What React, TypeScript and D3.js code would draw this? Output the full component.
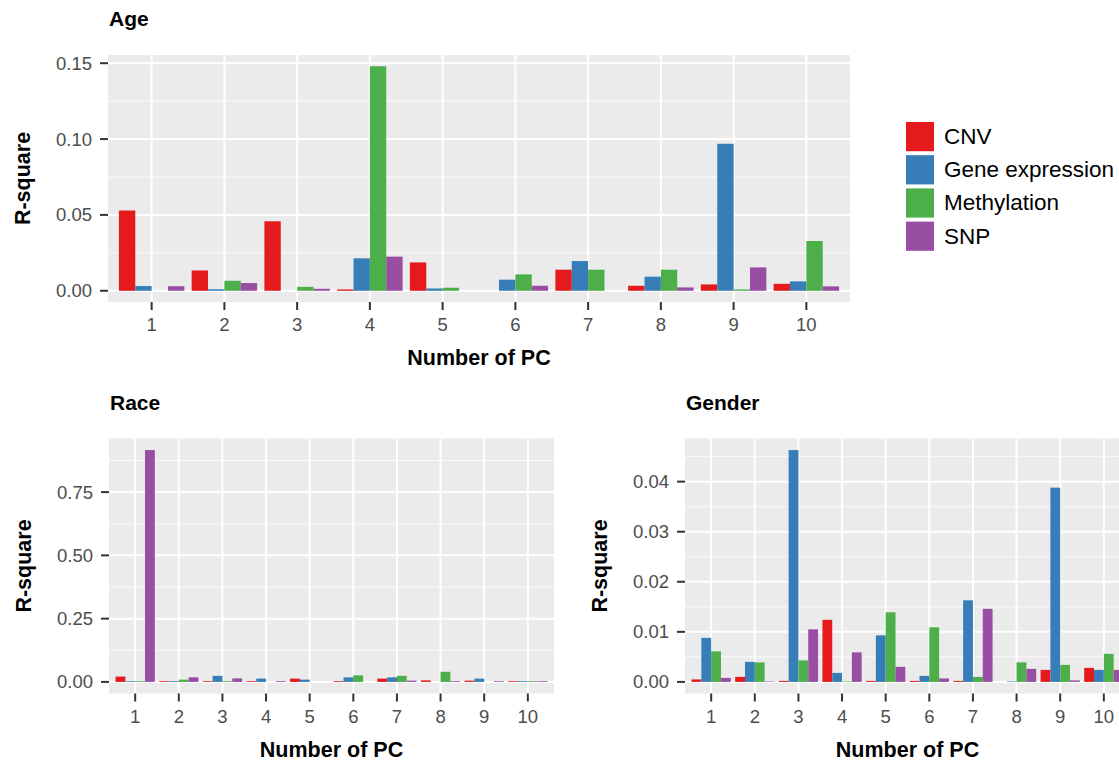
import React, { useEffect, useRef } from 'react';
import * as d3 from 'd3';

// number of principal component (x categories)
const pcLabels = ['1', '2', '3', '4', '5', '6', '7', '8', '9', '10'];
const seriesNames = ['CNV', 'Gene expression', 'Methylation', 'SNP'];
const seriesColors = ['#e41a1c', '#377eb8', '#4daf4a', '#984ea3'];

// Age
const ageCNV = [0.0529, 0.0134, 0.0458, 0.0009, 0.0187, 0, 0.0139, 0.0033, 0.0042, 0.0046];
const ageGeneExpr = [0.0031, 0.001, 0, 0.0214, 0.0015, 0.0073, 0.0196, 0.0093, 0.0969, 0.0062];
const ageMethylation = [0, 0.0066, 0.0026, 0.148, 0.002, 0.0108, 0.0139, 0.0139, 0.0009, 0.0328];
const ageSNP = [0.003, 0.0051, 0.0013, 0.0225, 0, 0.0033, 0, 0.0022, 0.0154, 0.0029];
const ageTicks = [0, 0.05, 0.1, 0.15];

// Race
const raceCNV = [0.021, 0.003, 0.003, 0.003, 0.013, 0.003, 0.013, 0.006, 0.005, 0.003];
const raceGeneExpr = [0.003, 0.003, 0.024, 0.013, 0.009, 0.018, 0.018, 0, 0.013, 0.003];
const raceMethylation = [0.003, 0.009, 0.003, 0, 0, 0.026, 0.024, 0.04, 0, 0.003];
const raceSNP = [0.916, 0.018, 0.014, 0.003, 0, 0, 0.005, 0.003, 0.003, 0.003];
const raceTicks = [0, 0.25, 0.5, 0.75];

// Gender
const genderCNV = [0.0005, 0.001, 0.0002, 0.0124, 0.0002, 0.0002, 0.0002, 0, 0.0024, 0.0028];
const genderGeneExpr = [0.0088, 0.004, 0.0463, 0.0018, 0.0093, 0.0012, 0.0163, 0.0001, 0.0388, 0.0024];
const genderMethylation = [0.0061, 0.0039, 0.0043, 0.0001, 0.0139, 0.0109, 0.001, 0.0039, 0.0034, 0.0056];
const genderSNP = [0.0008, 0.0001, 0.0105, 0.0059, 0.003, 0.0007, 0.0146, 0.0026, 0.0003, 0.0024];
const genderTicks = [0, 0.01, 0.02, 0.03, 0.04];

const FONT = "'Liberation Sans', Arial, Helvetica, sans-serif";

function drawPanel(svg, { title, series, ticks, fmt, left, right, top, bottom }) {
  const g = svg.append('g');
  const max = d3.max(series.flat());
  const y = d3.scaleLinear()
    .domain([-0.05 * max, 1.05 * max])
    .range([bottom, top]);
  const x = d3.scalePoint()
    .domain(pcLabels)
    .range([left, right])
    .padding(0.6);
  const step = x.step();

  // panel background
  g.append('rect')
    .attr('x', left).attr('y', top)
    .attr('width', right - left).attr('height', bottom - top)
    .attr('fill', '#ebebeb');

  // minor grid
  const minor = [];
  for (let i = 0; i < ticks.length; i++) {
    const m = ticks[i] + (ticks[1] - ticks[0]) / 2;
    if (m < y.domain()[1]) minor.push(m);
  }
  g.selectAll('.minor').data(minor).enter().append('line')
    .attr('x1', left).attr('x2', right)
    .attr('y1', d => y(d)).attr('y2', d => y(d))
    .attr('stroke', '#fafafa').attr('stroke-width', 1);

  // major grid
  g.selectAll('.hmajor').data(ticks).enter().append('line')
    .attr('x1', left).attr('x2', right)
    .attr('y1', d => y(d)).attr('y2', d => y(d))
    .attr('stroke', '#ffffff').attr('stroke-width', 2);
  g.selectAll('.vmajor').data(pcLabels).enter().append('line')
    .attr('x1', d => x(d)).attr('x2', d => x(d))
    .attr('y1', top).attr('y2', bottom)
    .attr('stroke', '#ffffff').attr('stroke-width', 2);

  // bars (dodged, total width 0.9)
  const bw = 0.9 * step / series.length;
  series.forEach((vals, k) => {
    g.selectAll('.bar' + k).data(vals).enter().append('rect')
      .attr('x', (d, i) => x(pcLabels[i]) - 0.45 * step + k * bw)
      .attr('y', d => y(d))
      .attr('width', bw)
      .attr('height', d => Math.max(0, y(0) - y(d)))
      .attr('fill', seriesColors[k]);
  });

  // y axis ticks and labels
  g.selectAll('.ytick').data(ticks).enter().append('line')
    .attr('x1', left - 8).attr('x2', left)
    .attr('y1', d => y(d)).attr('y2', d => y(d))
    .attr('stroke', '#333').attr('stroke-width', 2);
  g.selectAll('.ylab').data(ticks).enter().append('text')
    .attr('x', left - 16).attr('y', d => y(d))
    .attr('text-anchor', 'end').attr('dominant-baseline', 'central')
    .attr('font-size', 18.5).attr('fill', '#4d4d4d')
    .text(d => fmt(d));

  // x axis ticks and labels
  g.selectAll('.xtick').data(pcLabels).enter().append('line')
    .attr('x1', d => x(d)).attr('x2', d => x(d))
    .attr('y1', bottom).attr('y2', bottom + 8)
    .attr('stroke', '#333').attr('stroke-width', 2);
  g.selectAll('.xlab').data(pcLabels).enter().append('text')
    .attr('x', d => x(d)).attr('y', bottom + 29)
    .attr('text-anchor', 'middle')
    .attr('font-size', 18.5).attr('fill', '#4d4d4d')
    .text(d => d);

  // titles
  g.append('text')
    .attr('x', (left + right) / 2).attr('y', bottom + 63)
    .attr('text-anchor', 'middle')
    .attr('font-size', 21.5).attr('font-weight', 'bold').attr('fill', '#000')
    .text('Number of PC');
  g.append('text')
    .attr('transform', `translate(${left - 78},${(top + bottom) / 2}) rotate(-90)`)
    .attr('text-anchor', 'middle')
    .attr('font-size', 21.5).attr('font-weight', 'bold').attr('fill', '#000')
    .text('R-square');
  g.append('text')
    .attr('x', left + 1).attr('y', top - 29)
    .attr('font-size', 21).attr('font-weight', 'bold').attr('fill', '#000')
    .text(title);
}

function Chart() {
  const ref = useRef(null);

  useEffect(() => {
    const svg = d3.select(ref.current);
    svg.selectAll('*').remove();
    svg.attr('font-family', FONT);

    drawPanel(svg, {
      title: 'Age',
      series: [ageCNV, ageGeneExpr, ageMethylation, ageSNP],
      ticks: ageTicks, fmt: d3.format('.2f'),
      left: 108, right: 850, top: 55, bottom: 302,
    });
    drawPanel(svg, {
      title: 'Race',
      series: [raceCNV, raceGeneExpr, raceMethylation, raceSNP],
      ticks: raceTicks, fmt: d3.format('.2f'),
      left: 109, right: 554, top: 438.5, bottom: 693.5,
    });
    drawPanel(svg, {
      title: 'Gender',
      series: [genderCNV, genderGeneExpr, genderMethylation, genderSNP],
      ticks: genderTicks, fmt: d3.format('.2f'),
      left: 685, right: 1130, top: 438.5, bottom: 693.5,
    });

    // legend
    const leg = svg.append('g').attr('transform', 'translate(906,122)');
    const ly = d3.scaleBand().domain(seriesNames).range([0, 128.8]).paddingInner(0.12);
    leg.selectAll('rect').data(seriesNames).enter().append('rect')
      .attr('x', 0).attr('y', d => ly(d))
      .attr('width', 28).attr('height', ly.bandwidth())
      .attr('fill', (d, i) => seriesColors[i]);
    leg.selectAll('text').data(seriesNames).enter().append('text')
      .attr('x', 38).attr('y', d => ly(d) + ly.bandwidth() / 2)
      .attr('dominant-baseline', 'central')
      .attr('font-size', 22.5).attr('fill', '#000')
      .text(d => d);
  }, []);

  return (
    <svg ref={ref} width={1119} height={761}
      style={{ position: 'absolute', left: 0, top: 0, background: '#fff' }} />
  );
}

export default function App() {
  return <Chart />;
}
